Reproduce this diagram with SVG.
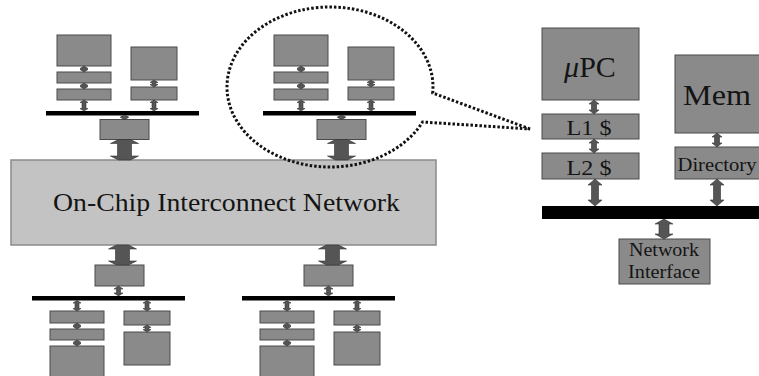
<svg xmlns="http://www.w3.org/2000/svg" width="759" height="376" viewBox="0 0 759 376">
<style>
.box{fill:#8a8a8a;stroke:#4a4a4a;stroke-width:1}
.net{fill:#c3c3c3;stroke:#8a8a8a;stroke-width:1.5}
.bus{fill:#000}
.arr{fill:#555;stroke:#333;stroke-width:0.6}
.dot{fill:none;stroke:#111;stroke-width:3;stroke-dasharray:2.5 2}
text{font-family:"Liberation Serif","Times New Roman",serif;fill:#141414}
</style>
<rect width="759" height="376" fill="#fff"/>
<g id="network">
<rect class="net" x="11" y="160" width="425" height="85"/>
<text x="53" y="211" font-size="25" textLength="347" lengthAdjust="spacingAndGlyphs">On-Chip Interconnect Network</text>
</g>
<g id="tile-top-left">
<rect class="box" x="57" y="35" width="54" height="31"/>
<rect class="box" x="57" y="72" width="54" height="11"/>
<rect class="box" x="57" y="89" width="54" height="11"/>
<rect class="box" x="131" y="47" width="46" height="33"/>
<rect class="box" x="131" y="87" width="46" height="13"/>
<rect class="bus" x="46" y="111" width="153" height="4.5"/>
<rect class="box" x="100" y="119.5" width="49" height="20"/>
</g>
<g id="tile-top-middle">
<rect class="box" x="274" y="35" width="54" height="31"/>
<rect class="box" x="274" y="72" width="54" height="11"/>
<rect class="box" x="274" y="89" width="54" height="11"/>
<rect class="box" x="348" y="47" width="46" height="33"/>
<rect class="box" x="348" y="87" width="46" height="13"/>
<rect class="bus" x="263" y="111" width="153" height="4.5"/>
<rect class="box" x="317" y="119.5" width="49" height="20"/>
</g>
<g id="tile-bottom-left">
<rect class="box" x="95" y="265" width="49" height="21"/>
<rect class="bus" x="32" y="296" width="153" height="4.5"/>
<rect class="box" x="50" y="311" width="54" height="12"/>
<rect class="box" x="50" y="329" width="54" height="11"/>
<rect class="box" x="50" y="346" width="54" height="40"/>
<rect class="box" x="124" y="311" width="46" height="14"/>
<rect class="box" x="124" y="332" width="46" height="33"/>
</g>
<g id="tile-bottom-right">
<rect class="box" x="304" y="265" width="49" height="21"/>
<rect class="bus" x="242" y="296" width="153" height="4.5"/>
<rect class="box" x="260" y="311" width="54" height="12"/>
<rect class="box" x="260" y="329" width="54" height="11"/>
<rect class="box" x="260" y="346" width="54" height="40"/>
<rect class="box" x="334" y="311" width="46" height="14"/>
<rect class="box" x="334" y="332" width="46" height="33"/>
</g>
<g id="upc">
<rect class="box" x="542" y="28" width="97" height="72"/>
<text x="590" y="77" font-size="30" text-anchor="middle"><tspan font-style="italic">μ</tspan>PC</text>
</g>
<g id="l1">
<rect class="box" x="542" y="114" width="97" height="25"/>
<text x="589" y="135" font-size="22" text-anchor="middle" textLength="45" lengthAdjust="spacingAndGlyphs">L1 $</text>
</g>
<g id="l2">
<rect class="box" x="542" y="153" width="97" height="26"/>
<text x="589" y="175" font-size="22" text-anchor="middle" textLength="45" lengthAdjust="spacingAndGlyphs">L2 $</text>
</g>
<g id="mem">
<rect class="box" x="675" y="55" width="86" height="78"/>
<text x="717" y="105" font-size="29" text-anchor="middle" textLength="68" lengthAdjust="spacingAndGlyphs">Mem</text>
</g>
<g id="directory">
<rect class="box" x="675" y="147" width="86" height="32"/>
<text x="717" y="171" font-size="19" text-anchor="middle" textLength="79" lengthAdjust="spacingAndGlyphs">Directory</text>
</g>
<g id="detail-bus">
<rect class="bus" x="542" y="206" width="220" height="13"/>
</g>
<g id="network-interface">
<rect class="box" x="619" y="239" width="91" height="45"/>
<text x="664" y="256" font-size="18" text-anchor="middle" textLength="70" lengthAdjust="spacingAndGlyphs">Network</text>
<text x="664" y="278" font-size="18" text-anchor="middle" textLength="72" lengthAdjust="spacingAndGlyphs">Interface</text>
</g>
<g id="connectors">
<path class="arr" d="M84 66 L88 68.5 H86 V69.5 H88 L84 72 L80 69.5 H82 V68.5 H80 Z"/>
<path class="arr" d="M84 83 L88 85.5 H86 V86.5 H88 L84 89 L80 86.5 H82 V85.5 H80 Z"/>
<path class="arr" d="M84 100 L88 102.5 H86 V108.5 H88 L84 111 L80 108.5 H82 V102.5 H80 Z"/>
<path class="arr" d="M154 80 L158 82.5 H156 V84.5 H158 L154 87 L150 84.5 H152 V82.5 H150 Z"/>
<path class="arr" d="M154 100 L158 102.5 H156 V108.5 H158 L154 111 L150 108.5 H152 V102.5 H150 Z"/>
<path class="arr" d="M124.5 115 L128.5 117 H126.5 V117.5 H128.5 L124.5 119.5 L120.5 117.5 H122.5 V117 H120.5 Z"/>
<path class="arr" d="M118.5 139.5 H130.5 L138.5 143.5 H131.5 V156 H138.5 L130.5 160 H118.5 L110.5 156 H117.5 V143.5 H110.5 Z"/>
<path class="arr" d="M301 66 L305 68.5 H303 V69.5 H305 L301 72 L297 69.5 H299 V68.5 H297 Z"/>
<path class="arr" d="M301 83 L305 85.5 H303 V86.5 H305 L301 89 L297 86.5 H299 V85.5 H297 Z"/>
<path class="arr" d="M301 100 L305 102.5 H303 V108.5 H305 L301 111 L297 108.5 H299 V102.5 H297 Z"/>
<path class="arr" d="M371 80 L375 82.5 H373 V84.5 H375 L371 87 L367 84.5 H369 V82.5 H367 Z"/>
<path class="arr" d="M371 100 L375 102.5 H373 V108.5 H375 L371 111 L367 108.5 H369 V102.5 H367 Z"/>
<path class="arr" d="M341.5 115 L345.5 117 H343.5 V117.5 H345.5 L341.5 119.5 L337.5 117.5 H339.5 V117 H337.5 Z"/>
<path class="arr" d="M335.5 139.5 H347.5 L355.5 143.5 H348.5 V156 H355.5 L347.5 160 H335.5 L327.5 156 H334.5 V143.5 H327.5 Z"/>
<path class="arr" d="M116.5 245 H128.5 L136.5 249 H129.5 V261 H136.5 L128.5 265 H116.5 L108.5 261 H115.5 V249 H108.5 Z"/>
<path class="arr" d="M118.5 286 L123 289 H120.5 V293 H123 L118.5 296 L114 293 H116.5 V289 H114 Z"/>
<path class="arr" d="M77 300.5 L81 303 H79 V308.5 H81 L77 311 L73 308.5 H75 V303 H73 Z"/>
<path class="arr" d="M77 323 L81 325.5 H79 V326.5 H81 L77 329 L73 326.5 H75 V325.5 H73 Z"/>
<path class="arr" d="M77 340 L81 342.5 H79 V343.5 H81 L77 346 L73 343.5 H75 V342.5 H73 Z"/>
<path class="arr" d="M147 300.5 L151 303 H149 V308.5 H151 L147 311 L143 308.5 H145 V303 H143 Z"/>
<path class="arr" d="M147 325 L151 327.5 H149 V329.5 H151 L147 332 L143 329.5 H145 V327.5 H143 Z"/>
<path class="arr" d="M326.5 245 H338.5 L346.5 249 H339.5 V261 H346.5 L338.5 265 H326.5 L318.5 261 H325.5 V249 H318.5 Z"/>
<path class="arr" d="M328.5 286 L333 289 H330.5 V293 H333 L328.5 296 L324 293 H326.5 V289 H324 Z"/>
<path class="arr" d="M287 300.5 L291 303 H289 V308.5 H291 L287 311 L283 308.5 H285 V303 H283 Z"/>
<path class="arr" d="M287 323 L291 325.5 H289 V326.5 H291 L287 329 L283 326.5 H285 V325.5 H283 Z"/>
<path class="arr" d="M287 340 L291 342.5 H289 V343.5 H291 L287 346 L283 343.5 H285 V342.5 H283 Z"/>
<path class="arr" d="M357 300.5 L361 303 H359 V308.5 H361 L357 311 L353 308.5 H355 V303 H353 Z"/>
<path class="arr" d="M357 325 L361 327.5 H359 V329.5 H361 L357 332 L353 329.5 H355 V327.5 H353 Z"/>
<path class="arr" d="M594 100 L599 104 H596.5 V110 H599 L594 114 L589 110 H591.5 V104 H589 Z"/>
<path class="arr" d="M594 139 L599 143 H596.5 V149 H599 L594 153 L589 149 H591.5 V143 H589 Z"/>
<path class="arr" d="M595 179 L602 185 H598.5 V200 H602 L595 206 L588 200 H591.5 V185 H588 Z"/>
<path class="arr" d="M717 133 L722 137 H719.5 V143 H722 L717 147 L712 143 H714.5 V137 H712 Z"/>
<path class="arr" d="M717 179 L724 185 H720.5 V200 H724 L717 206 L710 200 H713.5 V185 H710 Z"/>
<path class="arr" d="M664 219 L673 224 H669 V234 H673 L664 239 L655 234 H659 V224 H655 Z"/>
</g>
<g id="callout">
<path class="dot" d="M530 129 L432.7 93 A103 80 0 1 0 422.6 122 Z"/>
</g>
</svg>
